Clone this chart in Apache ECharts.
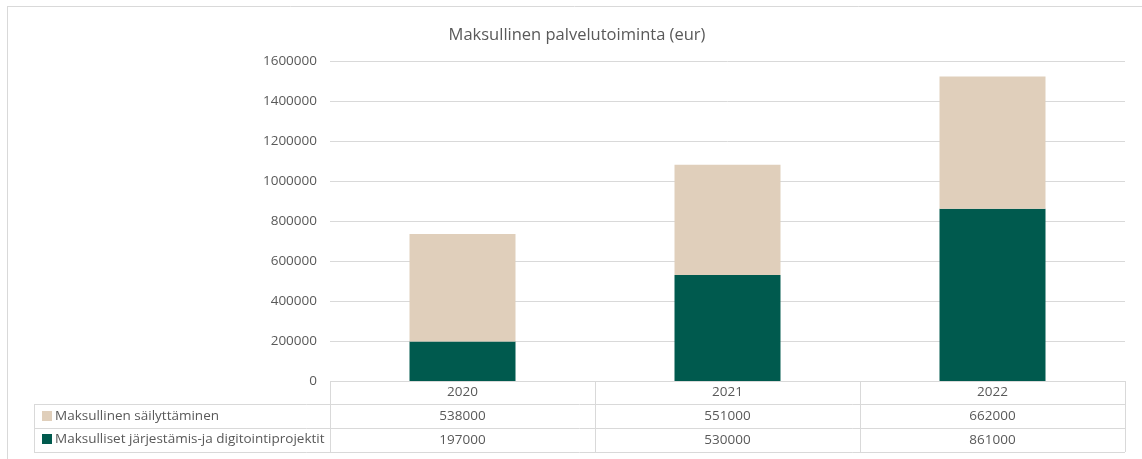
<!DOCTYPE html>
<html><head><meta charset="utf-8">
<script src="https://cdn.jsdelivr.net/npm/echarts@6/dist/echarts.min.js"></script>
<style>html,body{margin:0;padding:0;background:#fff}#c{width:1142px;height:459px}</style>
</head><body><div id="c"></div>
<script>
const categories = ['2020', '2021', '2022'];
const seriesNames = ['Maksullinen säilyttäminen', 'Maksulliset järjestämis-ja digitointiprojektit'];
const sailyttaminen = [538000, 551000, 662000];
const projektit = [197000, 530000, 861000];
const yTicks = { min: 0, max: 1600000, interval: 200000 };

const FONT = 'Open Sans';
const TXT = '#595959';
const LINE = '#d9d9d9';
const GREEN = '#005A4E';
const BEIGE = '#E0CFBB';
const FS = 13.5;

// layout
const gL = 330, gR = 1125, gT = 61, gB = 381;
const tabL = 34;
const rowsY = [gB, gB + 23, gB + 47, gB + 71];

const chart = echarts.init(document.getElementById('c'), null, { renderer: 'canvas' });

const graphics = [];
graphics.push({ type: 'line', shape: { x1: 7, y1: 6.5, x2: 1142, y2: 6.5 }, style: { stroke: LINE, lineWidth: 1 } });
graphics.push({ type: 'line', shape: { x1: 7.5, y1: 6, x2: 7.5, y2: 459 }, style: { stroke: LINE, lineWidth: 1 } });
graphics.push({ type: 'line', shape: { x1: gL, y1: rowsY[0] + 0.5, x2: gR, y2: rowsY[0] + 0.5 }, style: { stroke: LINE } });
for (let i = 1; i < rowsY.length; i++) {
  graphics.push({ type: 'line', shape: { x1: tabL, y1: rowsY[i] + 0.5, x2: gR, y2: rowsY[i] + 0.5 }, style: { stroke: LINE } });
}
const colW = (gR - gL) / categories.length;
for (let i = 0; i <= categories.length; i++) {
  const x = Math.round(gL + i * colW) + 0.5;
  graphics.push({ type: 'line', shape: { x1: x, y1: rowsY[0], x2: x, y2: rowsY[3] }, style: { stroke: LINE } });
}
graphics.push({ type: 'line', shape: { x1: tabL + 0.5, y1: rowsY[1], x2: tabL + 0.5, y2: rowsY[3] }, style: { stroke: LINE } });

const rowAxis = (arr, offset) => ({
  type: 'category', data: categories, gridIndex: 0, position: 'bottom', offset: offset,
  axisLine: { show: false }, axisTick: { show: false },
  axisLabel: { interval: 0, margin: 5, color: TXT, fontFamily: FONT, fontSize: FS,
    formatter: (v, i) => String(arr[i]) }
});

chart.setOption({
  animation: false,
  textStyle: { fontFamily: FONT },
  title: {
    text: 'Maksullinen palvelutoiminta (eur)', left: 572, textAlign: 'center', top: 22,
    textStyle: { fontFamily: FONT, fontSize: 16.5, fontWeight: 'normal', color: TXT }
  },
  legend: {
    data: seriesNames, orient: 'vertical', left: 37, top: 404,
    itemWidth: 10, itemHeight: 10, itemGap: 9, icon: 'rect',
    selectedMode: false,
    textStyle: { fontFamily: FONT, fontSize: FS, color: TXT, padding: [0, 0, 0, -2] }
  },
  grid: { left: gL, right: 1142 - gR, top: gT, bottom: 459 - gB, containLabel: false },
  xAxis: [
    { type: 'category', data: categories, axisLine: { show: false }, axisTick: { show: false },
      axisLabel: { interval: 0, margin: 4, color: TXT, fontFamily: FONT, fontSize: FS } },
    rowAxis(sailyttaminen, 23),
    rowAxis(projektit, 47)
  ],
  yAxis: {
    type: 'value', min: yTicks.min, max: yTicks.max, interval: yTicks.interval,
    axisLine: { show: false }, axisTick: { show: false },
    axisLabel: { color: TXT, fontFamily: FONT, fontSize: FS, margin: 13, formatter: v => String(v) },
    splitLine: { lineStyle: { color: LINE, width: 1 } }
  },
  series: [
    { name: seriesNames[1], type: 'bar', stack: 's', data: projektit, barWidth: '40%',
      itemStyle: { color: GREEN } },
    { name: seriesNames[0], type: 'bar', stack: 's', data: sailyttaminen, barWidth: '40%',
      itemStyle: { color: BEIGE } }
  ],
  graphic: graphics
});
</script></body></html>
